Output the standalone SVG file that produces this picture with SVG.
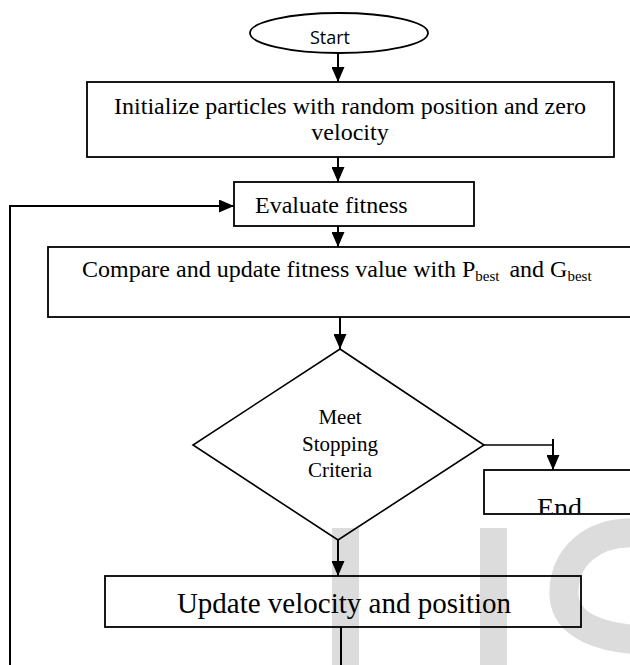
<svg xmlns="http://www.w3.org/2000/svg" width="630" height="665" viewBox="0 0 630 665">
<style>
.box{fill:none;stroke:#000;stroke-width:1.8}
.wm{fill:#dcdcdc}
.ser{font-family:"Liberation Serif","Times New Roman",serif;fill:#000}
.con{fill:none;stroke:#000;stroke-width:2}
.thin{fill:none;stroke:#000;stroke-width:1.5}
</style>
<defs>
<marker id="ah" viewBox="0 0 15 13" refX="15" refY="6.5" markerWidth="15" markerHeight="13" markerUnits="userSpaceOnUse" orient="auto">
<path d="M0,0 L15,6.5 L0,13 Z" fill="#000"/>
</marker>
<clipPath id="endclip"><rect x="484" y="470" width="160" height="43"/></clipPath>
</defs>
<rect x="0" y="0" width="630" height="665" fill="#fff"/>
<g id="watermark">
<rect class="wm" x="332" y="528" width="27" height="137"/>
<rect class="wm" x="480" y="528" width="27" height="137"/>
<path d="M650,534 C590,526 562,560 564,596 C566,628 606,638 640,640" fill="none" stroke="#dcdcdc" stroke-width="29"/>
</g>
<g id="start">
<ellipse cx="339" cy="33" rx="89" ry="20" fill="none" stroke="#000" stroke-width="1.8"/>
<text x="330" y="44" text-anchor="middle" font-family="'Open Sans','Noto Sans',sans-serif" font-size="18">Start</text>
</g>
<g id="init">
<rect class="box" x="87" y="82" width="527" height="75"/>
<text class="ser" x="350" y="114" text-anchor="middle" font-size="24">Initialize particles with random position and zero</text>
<text class="ser" x="350" y="140" text-anchor="middle" font-size="24">velocity</text>
</g>
<g id="evaluate">
<rect class="box" x="234" y="182" width="240" height="44"/>
<text class="ser" x="255" y="213" font-size="24">Evaluate fitness</text>
</g>
<g id="compare">
<rect class="box" x="48" y="247" width="600" height="70"/>
<text class="ser" x="82" y="277" font-size="24">Compare and update fitness value with P<tspan font-size="15" dy="4">best</tspan><tspan dy="-4" dx="10">and G</tspan><tspan font-size="15" dy="4">best</tspan></text>
</g>
<g id="decision">
<path d="M340,349 L484,445 L338,540 L193,445 Z" fill="none" stroke="#000" stroke-width="1.6"/>
<text class="ser" x="340" y="424" text-anchor="middle" font-size="21">Meet</text>
<text class="ser" x="340" y="451" text-anchor="middle" font-size="21">Stopping</text>
<text class="ser" x="340" y="477" text-anchor="middle" font-size="21">Criteria</text>
</g>
<g id="end">
<rect class="box" x="484" y="470" width="160" height="44"/>
<text class="ser" x="537" y="517" font-size="28" clip-path="url(#endclip)">End</text>
</g>
<g id="update">
<rect class="box" x="105" y="576" width="476" height="51"/>
<text class="ser" x="344" y="613" text-anchor="middle" font-size="29">Update velocity and position</text>
</g>
<g id="connectors">
<line class="con" x1="338" y1="53" x2="338" y2="82" marker-end="url(#ah)"/>
<line class="con" x1="338" y1="157" x2="338" y2="182" marker-end="url(#ah)"/>
<line class="con" x1="338" y1="226" x2="338" y2="247" marker-end="url(#ah)"/>
<line class="con" x1="340" y1="317" x2="340" y2="349" marker-end="url(#ah)"/>
<polyline class="thin" points="484,445 553,445"/>
<line class="con" x1="553" y1="439" x2="553" y2="470" marker-end="url(#ah)"/>
<line class="con" x1="338" y1="540" x2="338" y2="576" marker-end="url(#ah)"/>
<line class="con" x1="341" y1="627" x2="341" y2="665"/>
<polyline class="con" points="10,665 10,206 234,206" marker-end="url(#ah)"/>
</g>
</svg>
